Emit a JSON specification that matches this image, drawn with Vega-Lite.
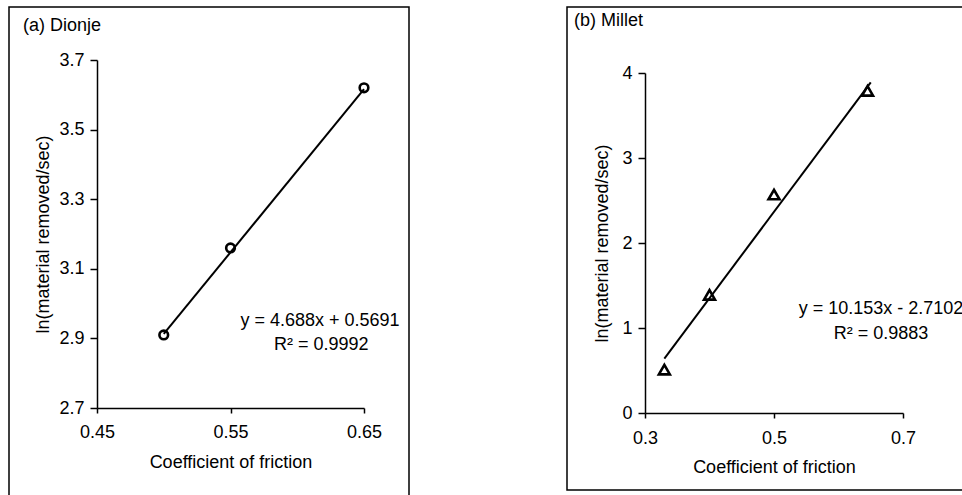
{
  "$schema": "https://vega.github.io/schema/vega-lite/v6.json",
  "padding": {"left": 8, "top": 6, "right": 0, "bottom": 0},
  "background": "white",
  "spacing": 156,
  "datasets": {
    "dionje_points": [
      {"x": 0.50, "y": 2.91},
      {"x": 0.55, "y": 3.16},
      {"x": 0.65, "y": 3.62}
    ],
    "dionje_trend": [
      {"x": 0.50, "y": 2.913},
      {"x": 0.65, "y": 3.616}
    ],
    "dionje_label": [
      {"x": 0.617, "y": 2.95, "label": "y = 4.688x + 0.5691"},
      {"x": 0.618, "y": 2.88, "label": "R² = 0.9992"}
    ],
    "millet_points": [
      {"x": 0.33, "y": 0.51},
      {"x": 0.40, "y": 1.39},
      {"x": 0.50, "y": 2.57},
      {"x": 0.645, "y": 3.79}
    ],
    "millet_trend": [
      {"x": 0.33, "y": 0.64},
      {"x": 0.65, "y": 3.89}
    ],
    "millet_label": [
      {"x": 0.666, "y": 1.22, "label": "y = 10.153x - 2.7102"},
      {"x": 0.666, "y": 0.93, "label": "R² = 0.9883"}
    ]
  },
  "config": {
    "font": "Liberation Sans",
    "view": {"stroke": "black", "strokeWidth": 1.5, "fill": "white"},
    "axis": {
      "grid": false,
      "domainColor": "black",
      "domainWidth": 1.5,
      "tickColor": "black",
      "tickWidth": 1.5,
      "labelColor": "black",
      "titleColor": "black",
      "labelFont": "Liberation Sans",
      "titleFont": "Liberation Sans",
      "labelFontSize": 18,
      "titleFontSize": 18,
      "titleFontWeight": "normal",
      "labelFlush": false,
      "labelOverlap": false
    },
    "axisX": {"tickSize": 5, "labelPadding": 10, "titlePadding": 11},
    "axisY": {"tickSize": 7, "labelPadding": 6, "titlePadding": 6}
  },
  "hconcat": [
    {
      "width": 400,
      "height": 492,
      "title": {"text": "(a) Dionje", "anchor": "start", "frame": "group", "dx": 14, "offset": -37, "baseline": "middle", "fontSize": 18, "fontWeight": "normal", "color": "black", "font": "Liberation Sans"},
      "encoding": {
        "x": {"field": "x", "type": "quantitative",
          "scale": {"domain": [0.45, 0.65], "range": [88, 355], "nice": false, "zero": false},
          "axis": {"title": "Coefficient of friction", "values": [0.45, 0.55, 0.65], "format": ".2f", "offset": -91, "titlePadding": 12}},
        "y": {"field": "y", "type": "quantitative",
          "scale": {"domain": [2.7, 3.7], "range": [401, 53], "nice": false, "zero": false},
          "axis": {"title": "ln(material removed/sec)", "values": [2.7, 2.9, 3.1, 3.3, 3.5, 3.7], "format": ".1f", "offset": -88, "titlePadding": 6}}
      },
      "layer": [
        {"data": {"name": "dionje_trend"}, "mark": {"type": "line", "color": "black", "strokeWidth": 2}},
        {"data": {"name": "dionje_points"}, "mark": {"type": "point", "shape": "circle", "filled": false, "size": 75, "strokeWidth": 2.6, "color": "black", "opacity": 1}},
        {"data": {"name": "dionje_label"}, "mark": {"type": "text", "fontSize": 18, "color": "black", "align": "center", "baseline": "middle", "font": "Liberation Sans"},
          "encoding": {"text": {"field": "label"}}}
      ]
    },
    {
      "width": 396,
      "height": 483,
      "title": {"text": "(b) Millet", "anchor": "start", "frame": "group", "dx": 7, "offset": -32, "baseline": "middle", "fontSize": 18, "fontWeight": "normal", "color": "black", "font": "Liberation Sans"},
      "encoding": {
        "x": {"field": "x", "type": "quantitative",
          "scale": {"domain": [0.3, 0.7], "range": [78, 336], "nice": false, "zero": false},
          "axis": {"title": "Coefficient of friction", "values": [0.3, 0.5, 0.7], "format": ".1f", "offset": -77, "labelPadding": 11, "titlePadding": 11}},
        "y": {"field": "y", "type": "quantitative",
          "scale": {"domain": [0, 4], "range": [406, 66], "nice": false, "zero": false},
          "axis": {"title": "ln(material removed/sec)", "values": [0, 1, 2, 3, 4], "format": "d", "offset": -78, "titlePadding": 10}}
      },
      "layer": [
        {"data": {"name": "millet_trend"}, "mark": {"type": "line", "color": "black", "strokeWidth": 2}},
        {"data": {"name": "millet_points"}, "mark": {"type": "point", "shape": "triangle-up", "filled": false, "size": 120, "strokeWidth": 2.6, "color": "black", "opacity": 1}},
        {"data": {"name": "millet_label"}, "mark": {"type": "text", "fontSize": 18, "color": "black", "align": "center", "baseline": "middle", "font": "Liberation Sans"},
          "encoding": {"text": {"field": "label"}}}
      ]
    }
  ]
}
